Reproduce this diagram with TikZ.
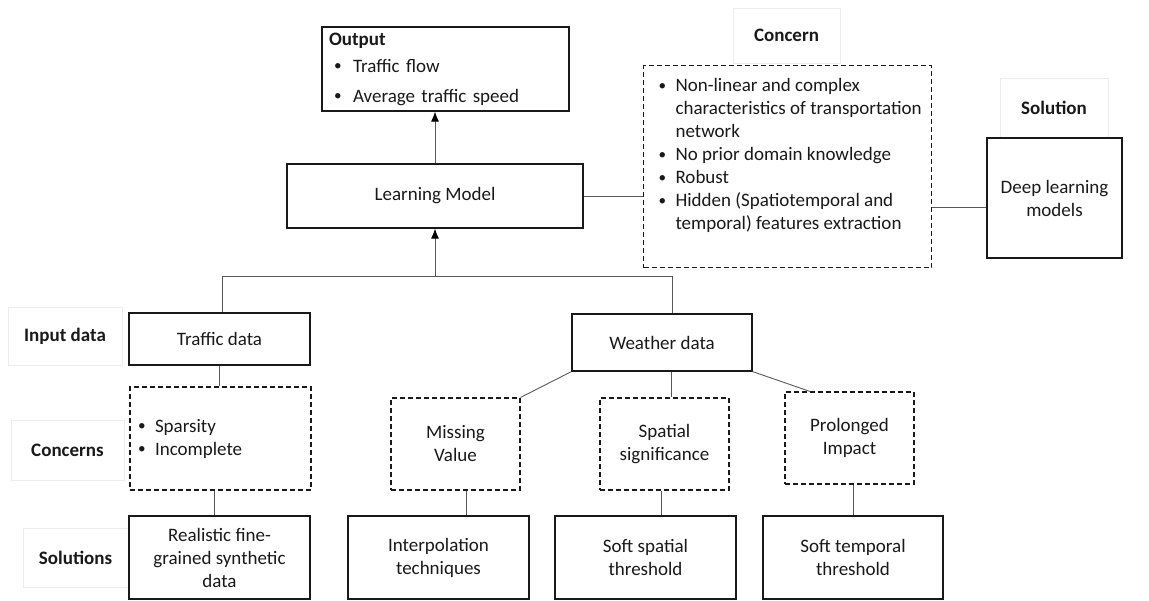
\documentclass[tikz,border=0pt]{standalone}
\usepackage{graphicx}
\usepackage{fontspec}
\setmainfont{Carlito}
\usetikzlibrary{arrows.meta}
\newcommand{\mybul}{\raisebox{0.15ex}{\scalebox{0.8}{\textbullet}}}
\begin{document}
\begin{tikzpicture}[x=1pt,y=-1pt,
  every node/.style={font=\fontsize{19}{23}\selectfont, text=black!90, inner sep=0pt},
  solidbox/.style={draw=black!90, line width=1.2pt, align=center},
  dashbox/.style={draw=black!90, line width=1.1pt, dash pattern=on 5pt off 3pt, align=center},
  lbl/.style={draw=black!7, line width=0.6pt, font=\fontsize{19}{23}\selectfont\bfseries},
  conn/.style={draw=black!65, line width=0.9pt},
  tip/.style={-{Latex[length=10pt,width=8pt,color=black]}}
]
\useasboundingbox (0,0) rectangle (1149,601);

% labels
\node[lbl, minimum width=107, minimum height=55] (lconcern) at (786.5,35.5) {Concern};
\node[lbl, minimum width=108, minimum height=59] (lsolution) at (1054,107.5) {Solution};
\node[lbl, minimum width=114, minimum height=58] (linput) at (65,336) {Input data};
\node[lbl, minimum width=113, minimum height=60] (lconcerns) at (67.5,450) {Concerns};
\node[lbl, minimum width=105, minimum height=59] (lsolutions) at (75.5,557.5) {Solutions};

% top part
\node[solidbox, minimum width=247, minimum height=84, align=left, text width=233] (out) at (445.5,69)
  {\textbf{Output}\\[4pt]
   \hspace*{5pt}\makebox[19pt][l]{\mybul}Traffic flow\\[7pt]
   \hspace*{5pt}\makebox[19pt][l]{\mybul}Average traffic speed};
\node[solidbox, minimum width=296, minimum height=64] (lm) at (435,196) {Learning Model};
\node[dashbox, anchor=north west] (conc) at (643,65)
  {\parbox[c][202pt][t]{288pt}{\fontsize{19}{23}\selectfont\vspace*{13pt}%
   \hspace*{15pt}\makebox[17pt][l]{\mybul}Non-linear and complex\\
   \hspace*{32pt}characteristics of transportation\\
   \hspace*{32pt}network\\
   \hspace*{15pt}\makebox[17pt][l]{\mybul}No prior domain knowledge\\
   \hspace*{15pt}\makebox[17pt][l]{\mybul}Robust\\
   \hspace*{15pt}\makebox[17pt][l]{\mybul}Hidden (Spatiotemporal and\\
   \hspace*{32pt}temporal) features extraction}};
\node[solidbox, minimum width=135, minimum height=120] (dl) at (1054.5,198) {Deep learning\\models};

% input data
\node[solidbox, minimum width=181, minimum height=52] (trf) at (219.5,339) {Traffic data};
\node[solidbox, minimum width=180, minimum height=57] (wea) at (662,342.5) {Weather data};

% concerns
\node[dashbox, minimum width=181, minimum height=103, align=left, text width=165] (tcon) at (220.5,438.5)
  {\makebox[17pt][l]{\mybul}Sparsity\\\makebox[17pt][l]{\mybul}Incomplete};
\node[dashbox, minimum width=129, minimum height=92] (mv) at (455.5,444) {Missing\\Value};
\node[dashbox, minimum width=129, minimum height=92] (sp) at (664.5,444) {Spatial\\significance};
\node[dashbox, minimum width=129, minimum height=92] (pi) at (849.5,438) {Prolonged\\Impact};

% solutions
\node[solidbox, minimum width=181, minimum height=83] (real) at (219.5,557.5) {Realistic fine-\\grained synthetic\\data};
\node[solidbox, minimum width=181, minimum height=83] (ip) at (438.5,557.5) {Interpolation\\techniques};
\node[solidbox, minimum width=181, minimum height=83] (ss) at (645.5,557.5) {Soft spatial\\threshold};
\node[solidbox, minimum width=180, minimum height=83] (st) at (853,557.5) {Soft temporal\\threshold};

% connectors
\draw[conn, tip] (lm.north) -- (lm.north |- out.south);
\draw[conn] (lm.east) -- (lm.east -| conc.west);
\coordinate (dlc) at ([yshift=-9pt]dl.west);
\draw[conn] (dlc) -- (dlc -| conc.east);

\coordinate (jL) at (222,276);
\coordinate (jR) at (672,276);
\draw[conn] (jL |- trf.north) -- (jL) -- (jR) -- (jR |- wea.north);
\draw[conn, tip] (lm.south |- jL) -- (lm.south);

\draw[conn] (trf.south) -- (trf.south |- tcon.north);
\coordinate (tc) at ([xshift=-6pt]tcon.south);
\draw[conn] (tc) -- (tc |- real.north);

\draw[conn] (wea.south west) -- (mv.north east);
\coordinate (ws) at ([xshift=9pt]wea.south);
\draw[conn] (ws) -- (ws |- sp.north);
\coordinate (pt) at ([xshift=-39.5pt]pi.north);
\draw[conn] (wea.south east) -- (pt);

\coordinate (m1) at ([xshift=10.5pt]mv.south);
\draw[conn] (m1) -- (m1 |- ip.north);
\coordinate (s1) at ([xshift=-3.5pt]sp.south);
\draw[conn] (s1) -- (s1 |- ss.north);
\coordinate (p1) at ([xshift=3.5pt]pi.south);
\draw[conn] (p1) -- (p1 |- st.north);
\end{tikzpicture}
\end{document}
